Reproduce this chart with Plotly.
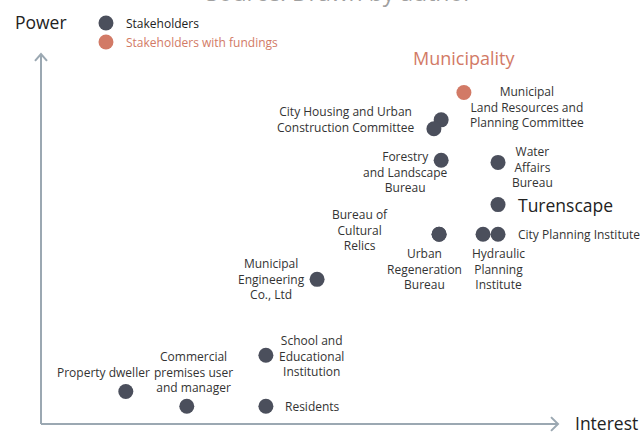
import plotly.graph_objects as go

# stakeholder map: interest (x) vs power (y), 0-10 scale
names = ["Municipal<br>Land Resources and<br>Planning Committee",
         "City Housing and Urban<br>Construction Committee", "",
         "Forestry<br>and Landscape<br>Bureau",
         "Water<br>Affairs<br>Bureau",
         "Turenscape",
         "Bureau of<br>Cultural<br>Relics",
         "Urban<br>Regeneration<br>Bureau",
         "Hydraulic<br>Planning<br>Institute",
         "City Planning Institute",
         "Municipal<br>Engineering<br>Co., Ltd",
         "School and<br>Educational<br>Institution",
         "Property dweller",
         "Commercial<br>premises user<br>and manager",
         "Residents"]
interest = [8.18, 7.74, 7.60, 7.74, 8.84, 8.84, 7.70, 7.70, 8.55, 8.84, 5.34, 4.35, 1.64, 2.82, 4.35]
power = [8.96, 8.22, 7.98, 7.13, 7.07, 5.93, 5.13, 5.13, 5.13, 5.13, 3.91, 1.86, 0.88, 0.48, 0.48]
funded = [True] + [False] * 14

# label placement (pixel offsets from the dot, anchor)
label_pos = [(63, 15, "center"), (-96, 0, "center"), (0, 0, "center"), (-36, 12, "center"),
             (34, 5, "center"), (18, 0, "left"), (-79, -4, "center"), (-15, 35, "center"),
             (15, 35, "center"), (18, 0, "left"), (-46, 0, "center"), (46, 1, "center"),
             (-22, -19, "center"), (7, -34, "center"), (17, 0, "left")]
big_labels = {"Turenscape"}

DARK = "#4b4f5c"
ORANGE = "#d27a66"
AXIS = "#9ba8b2"
FONT = "Open Sans"

fig = go.Figure()
fig.add_trace(go.Scatter(
    x=[x for x, f in zip(interest, funded) if not f],
    y=[y for y, f in zip(power, funded) if not f],
    mode="markers", name="Stakeholders",
    marker=dict(size=15, color=DARK), hoverinfo="skip"))
fig.add_trace(go.Scatter(
    x=[x for x, f in zip(interest, funded) if f],
    y=[y for y, f in zip(power, funded) if f],
    mode="markers", name=f'<span style="color:{ORANGE}">Stakeholders with fundings</span>',
    marker=dict(size=15, color=ORANGE), hoverinfo="skip"))

annotations = []
for n, x, y, (dx, dy, anc) in zip(names, interest, power, label_pos):
    if not n:
        continue
    annotations.append(dict(
        x=x, y=y, xref="x", yref="y", text=n, showarrow=False,
        xanchor=anc, yanchor="middle", xshift=dx, yshift=-dy, align="center",
        font=dict(size=17.5 if n in big_labels else 12, color="#222" if n in big_labels else "#333")))

annotations += [
    dict(x=0.5, y=1.12, xref="paper", yref="paper", xanchor="center", yanchor="bottom",
         text="Source: Drawn by author", showarrow=False, xshift=40,
         font=dict(size=23, color="#a0a0a0")),
    dict(x=0, y=1.086, xref="paper", yref="paper", xanchor="center", yanchor="middle",
         text="Power", showarrow=False, font=dict(size=17.5, color="#222")),
    dict(x=1, y=0, xref="paper", yref="paper", xanchor="left", yanchor="middle",
         text="Interest", showarrow=False, xshift=15, yshift=1, font=dict(size=17.5, color="#222")),
    dict(x=8.18, y=8.96, xref="x", yref="y", text="Municipality", showarrow=False,
         xanchor="center", yanchor="middle", yshift=34, font=dict(size=18, color=ORANGE)),
]

line = dict(color=AXIS, width=2)
shapes = [
    dict(type="line", xref="paper", yref="paper", x0=0, y0=0, x1=0, y1=1, line=line),
    dict(type="line", xref="paper", yref="paper", x0=0, y0=0, x1=1, y1=0, line=line),
    dict(type="path", xref="paper", yref="paper",
         path="M -0.0116,0.9814 L 0,1 L 0.0116,0.9814", line=line),
    dict(type="path", xref="paper", yref="paper",
         path="M 0.9865,0.0186 L 1,0 L 0.9865,-0.0186", line=line),
]

fig.update_layout(
    width=643, height=433,
    margin=dict(l=41, r=85, t=48, b=9),
    paper_bgcolor="white", plot_bgcolor="white",
    font=dict(family=FONT, size=12, color="#222"),
    showlegend=True,
    legend=dict(x=0.087, y=1.123, xanchor="left", yanchor="top",
                bgcolor="rgba(0,0,0,0)", font=dict(size=12, color="#222")),
    xaxis=dict(range=[0, 10], visible=False, fixedrange=True),
    yaxis=dict(range=[0, 10], visible=False, fixedrange=True),
    annotations=annotations,
    shapes=shapes,
)

fig.write_html("out.html", config={"displayModeBar": False},
               post_script="document.body.style.margin='0';document.body.style.overflow='hidden';")
